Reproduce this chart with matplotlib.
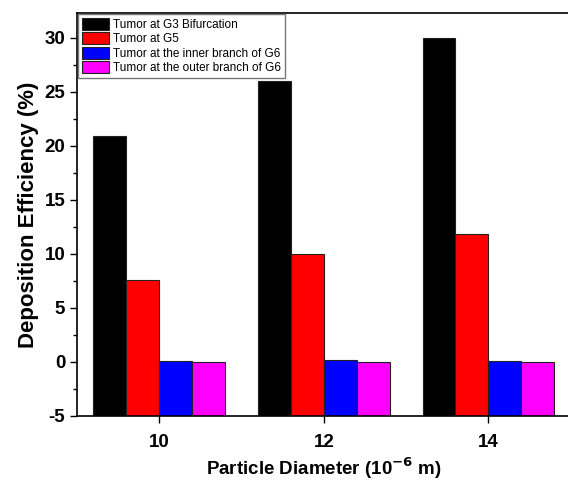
import matplotlib
matplotlib.use("Agg")
import matplotlib.pyplot as plt
from matplotlib.ticker import MultipleLocator
import numpy as np

diameters = [10, 12, 14]
series_names = [
    "Tumor at G3 Bifurcation",
    "Tumor at G5",
    "Tumor at the inner branch of G6",
    "Tumor at the outer branch of G6",
]
g3_bifurcation = [20.9, 26.0, 30.0]
g5 = [7.6, 10.0, 11.85]
g6_inner = [0.1, 0.15, 0.1]
g6_outer = [0.02, 0.03, 0.02]
colors = ["#000000", "#ff0000", "#0000ff", "#ff00ff"]


def main():
    plt.rcParams['font.family'] = ['Liberation Sans', 'DejaVu Sans']
    plt.rcParams['axes.unicode_minus'] = False
    fig = plt.figure(figsize=(5.68, 4.84), dpi=100)
    ax = fig.add_axes([0.1356, 0.1405, 0.869, 0.8325])

    values = [g3_bifurcation, g5, g6_inner, g6_outer]
    x = np.array(diameters, dtype=float)
    width = 0.4
    offsets = [-0.6, -0.2, 0.2, 0.6]
    base = -5
    for vals, name, c, off in zip(values, series_names, colors, offsets):
        heights = np.array(vals) - base
        ax.bar(x + off, heights, width, bottom=base, color=c,
               edgecolor='#222222', linewidth=0.8, label=name)

    ax.set_xlim(9.0, 15.0)
    ax.set_ylim(-5, 32.3)
    ax.set_xticks(diameters)
    ax.yaxis.set_major_locator(MultipleLocator(5))
    ax.yaxis.set_minor_locator(MultipleLocator(2.5))
    ax.tick_params(axis='both', which='major', direction='out', length=5,
                   width=1, labelsize=13.5)
    ax.tick_params(axis='x', which='major', pad=8)
    ax.tick_params(axis='y', which='minor', direction='out', length=3,
                   width=1)
    for lab in ax.get_xticklabels() + ax.get_yticklabels():
        lab.set_fontweight('bold')
    for sp in ax.spines.values():
        sp.set_linewidth(1.2)

    ax.set_xlabel('Particle Diameter (10$^{\\mathbf{-6}}$ m)',
                  fontsize=13.5, fontweight='bold')
    ax.xaxis.set_label_coords(0.5, -0.098)
    ax.set_ylabel('Deposition Efficiency (%)', fontsize=16,
                  fontweight='bold', labelpad=4)

    leg = ax.legend(loc='upper left', bbox_to_anchor=(0.0, 1.0),
                    fontsize=8.5, frameon=True, fancybox=False,
                    borderpad=0.3, labelspacing=0.12, handlelength=2.3,
                    handleheight=1.2, handletextpad=0.35, borderaxespad=0.1)
    leg.get_frame().set_edgecolor('#555555')
    leg.get_frame().set_linewidth(1.0)

    fig.savefig('out.png', dpi=100)


if __name__ == "__main__":
    main()
